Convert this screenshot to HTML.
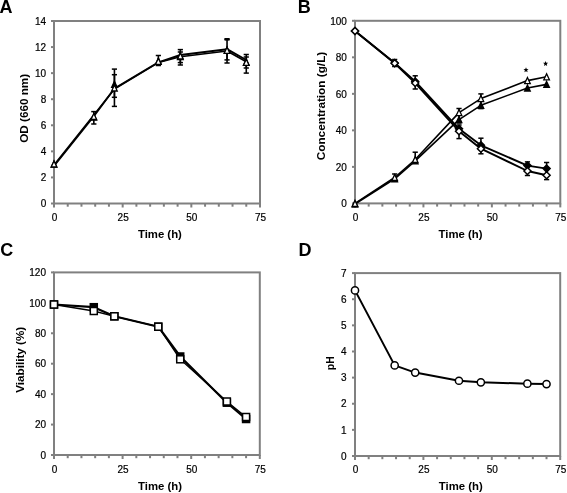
<!DOCTYPE html>
<html><head><meta charset="utf-8"><style>
html,body{margin:0;padding:0;background:#fff;width:567px;height:493px;overflow:hidden}
svg{display:block;will-change:transform}
.t{font-family:"Liberation Sans",sans-serif;font-size:10px;fill:#000;stroke:#000;stroke-width:0.2px}
.h{font-family:"Liberation Sans",sans-serif;font-size:11.5px;font-weight:bold;fill:#000}
.p{font-family:"Liberation Sans",sans-serif;font-size:18px;font-weight:bold;fill:#000}
</style></head><body>
<svg width="567" height="493" viewBox="0 0 567 493">
<rect width="567" height="493" fill="#fff"/>
<rect x="54" y="21" width="206" height="182.5" fill="none" stroke="#808080" stroke-width="2"/>
<line x1="51" x2="54" y1="203.5" y2="203.5" stroke="#808080" stroke-width="2"/>
<line x1="51" x2="54" y1="177.43" y2="177.43" stroke="#808080" stroke-width="2"/>
<line x1="51" x2="54" y1="151.36" y2="151.36" stroke="#808080" stroke-width="2"/>
<line x1="51" x2="54" y1="125.29" y2="125.29" stroke="#808080" stroke-width="2"/>
<line x1="51" x2="54" y1="99.21" y2="99.21" stroke="#808080" stroke-width="2"/>
<line x1="51" x2="54" y1="73.14" y2="73.14" stroke="#808080" stroke-width="2"/>
<line x1="51" x2="54" y1="47.07" y2="47.07" stroke="#808080" stroke-width="2"/>
<line x1="51" x2="54" y1="21" y2="21" stroke="#808080" stroke-width="2"/>
<line x1="54" x2="54" y1="203.5" y2="207.5" stroke="#808080" stroke-width="2"/>
<line x1="67.73" x2="67.73" y1="203.5" y2="206.7" stroke="#808080" stroke-width="2"/>
<line x1="81.47" x2="81.47" y1="203.5" y2="206.7" stroke="#808080" stroke-width="2"/>
<line x1="95.2" x2="95.2" y1="203.5" y2="206.7" stroke="#808080" stroke-width="2"/>
<line x1="108.93" x2="108.93" y1="203.5" y2="206.7" stroke="#808080" stroke-width="2"/>
<line x1="122.67" x2="122.67" y1="203.5" y2="207.5" stroke="#808080" stroke-width="2"/>
<line x1="136.4" x2="136.4" y1="203.5" y2="206.7" stroke="#808080" stroke-width="2"/>
<line x1="150.13" x2="150.13" y1="203.5" y2="206.7" stroke="#808080" stroke-width="2"/>
<line x1="163.87" x2="163.87" y1="203.5" y2="206.7" stroke="#808080" stroke-width="2"/>
<line x1="177.6" x2="177.6" y1="203.5" y2="206.7" stroke="#808080" stroke-width="2"/>
<line x1="191.33" x2="191.33" y1="203.5" y2="207.5" stroke="#808080" stroke-width="2"/>
<line x1="205.07" x2="205.07" y1="203.5" y2="206.7" stroke="#808080" stroke-width="2"/>
<line x1="218.8" x2="218.8" y1="203.5" y2="206.7" stroke="#808080" stroke-width="2"/>
<line x1="232.53" x2="232.53" y1="203.5" y2="206.7" stroke="#808080" stroke-width="2"/>
<line x1="246.27" x2="246.27" y1="203.5" y2="206.7" stroke="#808080" stroke-width="2"/>
<line x1="260" x2="260" y1="203.5" y2="207.5" stroke="#808080" stroke-width="2"/>
<text x="46.2" y="207.2" text-anchor="end" class="t">0</text>
<text x="46.2" y="181.13" text-anchor="end" class="t">2</text>
<text x="46.2" y="155.06" text-anchor="end" class="t">4</text>
<text x="46.2" y="128.99" text-anchor="end" class="t">6</text>
<text x="46.2" y="102.91" text-anchor="end" class="t">8</text>
<text x="46.2" y="76.84" text-anchor="end" class="t">10</text>
<text x="46.2" y="50.77" text-anchor="end" class="t">12</text>
<text x="46.2" y="24.7" text-anchor="end" class="t">14</text>
<text x="54.5" y="221" text-anchor="middle" class="t">0</text>
<text x="123.17" y="221" text-anchor="middle" class="t">25</text>
<text x="191.83" y="221" text-anchor="middle" class="t">50</text>
<text x="260.5" y="221" text-anchor="middle" class="t">75</text>
<rect x="355" y="20.8" width="205.3" height="182.6" fill="none" stroke="#808080" stroke-width="2"/>
<line x1="352" x2="355" y1="203.4" y2="203.4" stroke="#808080" stroke-width="2"/>
<line x1="352" x2="355" y1="166.88" y2="166.88" stroke="#808080" stroke-width="2"/>
<line x1="352" x2="355" y1="130.36" y2="130.36" stroke="#808080" stroke-width="2"/>
<line x1="352" x2="355" y1="93.84" y2="93.84" stroke="#808080" stroke-width="2"/>
<line x1="352" x2="355" y1="57.32" y2="57.32" stroke="#808080" stroke-width="2"/>
<line x1="352" x2="355" y1="20.8" y2="20.8" stroke="#808080" stroke-width="2"/>
<line x1="355" x2="355" y1="203.4" y2="207.4" stroke="#808080" stroke-width="2"/>
<line x1="368.69" x2="368.69" y1="203.4" y2="206.6" stroke="#808080" stroke-width="2"/>
<line x1="382.37" x2="382.37" y1="203.4" y2="206.6" stroke="#808080" stroke-width="2"/>
<line x1="396.06" x2="396.06" y1="203.4" y2="206.6" stroke="#808080" stroke-width="2"/>
<line x1="409.75" x2="409.75" y1="203.4" y2="206.6" stroke="#808080" stroke-width="2"/>
<line x1="423.43" x2="423.43" y1="203.4" y2="207.4" stroke="#808080" stroke-width="2"/>
<line x1="437.12" x2="437.12" y1="203.4" y2="206.6" stroke="#808080" stroke-width="2"/>
<line x1="450.81" x2="450.81" y1="203.4" y2="206.6" stroke="#808080" stroke-width="2"/>
<line x1="464.49" x2="464.49" y1="203.4" y2="206.6" stroke="#808080" stroke-width="2"/>
<line x1="478.18" x2="478.18" y1="203.4" y2="206.6" stroke="#808080" stroke-width="2"/>
<line x1="491.87" x2="491.87" y1="203.4" y2="207.4" stroke="#808080" stroke-width="2"/>
<line x1="505.55" x2="505.55" y1="203.4" y2="206.6" stroke="#808080" stroke-width="2"/>
<line x1="519.24" x2="519.24" y1="203.4" y2="206.6" stroke="#808080" stroke-width="2"/>
<line x1="532.93" x2="532.93" y1="203.4" y2="206.6" stroke="#808080" stroke-width="2"/>
<line x1="546.61" x2="546.61" y1="203.4" y2="206.6" stroke="#808080" stroke-width="2"/>
<line x1="560.3" x2="560.3" y1="203.4" y2="207.4" stroke="#808080" stroke-width="2"/>
<text x="346.9" y="207.1" text-anchor="end" class="t">0</text>
<text x="346.9" y="170.58" text-anchor="end" class="t">20</text>
<text x="346.9" y="134.06" text-anchor="end" class="t">40</text>
<text x="346.9" y="97.54" text-anchor="end" class="t">60</text>
<text x="346.9" y="61.02" text-anchor="end" class="t">80</text>
<text x="346.9" y="24.5" text-anchor="end" class="t">100</text>
<text x="355.5" y="221" text-anchor="middle" class="t">0</text>
<text x="423.93" y="221" text-anchor="middle" class="t">25</text>
<text x="492.37" y="221" text-anchor="middle" class="t">50</text>
<text x="560.8" y="221" text-anchor="middle" class="t">75</text>
<rect x="54" y="272.4" width="205.8" height="182.6" fill="none" stroke="#808080" stroke-width="2"/>
<line x1="51" x2="54" y1="455" y2="455" stroke="#808080" stroke-width="2"/>
<line x1="51" x2="54" y1="424.57" y2="424.57" stroke="#808080" stroke-width="2"/>
<line x1="51" x2="54" y1="394.13" y2="394.13" stroke="#808080" stroke-width="2"/>
<line x1="51" x2="54" y1="363.7" y2="363.7" stroke="#808080" stroke-width="2"/>
<line x1="51" x2="54" y1="333.27" y2="333.27" stroke="#808080" stroke-width="2"/>
<line x1="51" x2="54" y1="302.83" y2="302.83" stroke="#808080" stroke-width="2"/>
<line x1="51" x2="54" y1="272.4" y2="272.4" stroke="#808080" stroke-width="2"/>
<line x1="54" x2="54" y1="455" y2="459" stroke="#808080" stroke-width="2"/>
<line x1="67.72" x2="67.72" y1="455" y2="458.2" stroke="#808080" stroke-width="2"/>
<line x1="81.44" x2="81.44" y1="455" y2="458.2" stroke="#808080" stroke-width="2"/>
<line x1="95.16" x2="95.16" y1="455" y2="458.2" stroke="#808080" stroke-width="2"/>
<line x1="108.88" x2="108.88" y1="455" y2="458.2" stroke="#808080" stroke-width="2"/>
<line x1="122.6" x2="122.6" y1="455" y2="459" stroke="#808080" stroke-width="2"/>
<line x1="136.32" x2="136.32" y1="455" y2="458.2" stroke="#808080" stroke-width="2"/>
<line x1="150.04" x2="150.04" y1="455" y2="458.2" stroke="#808080" stroke-width="2"/>
<line x1="163.76" x2="163.76" y1="455" y2="458.2" stroke="#808080" stroke-width="2"/>
<line x1="177.48" x2="177.48" y1="455" y2="458.2" stroke="#808080" stroke-width="2"/>
<line x1="191.2" x2="191.2" y1="455" y2="459" stroke="#808080" stroke-width="2"/>
<line x1="204.92" x2="204.92" y1="455" y2="458.2" stroke="#808080" stroke-width="2"/>
<line x1="218.64" x2="218.64" y1="455" y2="458.2" stroke="#808080" stroke-width="2"/>
<line x1="232.36" x2="232.36" y1="455" y2="458.2" stroke="#808080" stroke-width="2"/>
<line x1="246.08" x2="246.08" y1="455" y2="458.2" stroke="#808080" stroke-width="2"/>
<line x1="259.8" x2="259.8" y1="455" y2="459" stroke="#808080" stroke-width="2"/>
<text x="46" y="458.7" text-anchor="end" class="t">0</text>
<text x="46" y="428.27" text-anchor="end" class="t">20</text>
<text x="46" y="397.83" text-anchor="end" class="t">40</text>
<text x="46" y="367.4" text-anchor="end" class="t">60</text>
<text x="46" y="336.97" text-anchor="end" class="t">80</text>
<text x="46" y="306.53" text-anchor="end" class="t">100</text>
<text x="46" y="276.1" text-anchor="end" class="t">120</text>
<text x="54.5" y="472.6" text-anchor="middle" class="t">0</text>
<text x="123.1" y="472.6" text-anchor="middle" class="t">25</text>
<text x="191.7" y="472.6" text-anchor="middle" class="t">50</text>
<text x="260.3" y="472.6" text-anchor="middle" class="t">75</text>
<rect x="355" y="273.1" width="205.2" height="182.9" fill="none" stroke="#808080" stroke-width="2"/>
<line x1="352" x2="355" y1="456" y2="456" stroke="#808080" stroke-width="2"/>
<line x1="352" x2="355" y1="429.87" y2="429.87" stroke="#808080" stroke-width="2"/>
<line x1="352" x2="355" y1="403.74" y2="403.74" stroke="#808080" stroke-width="2"/>
<line x1="352" x2="355" y1="377.61" y2="377.61" stroke="#808080" stroke-width="2"/>
<line x1="352" x2="355" y1="351.49" y2="351.49" stroke="#808080" stroke-width="2"/>
<line x1="352" x2="355" y1="325.36" y2="325.36" stroke="#808080" stroke-width="2"/>
<line x1="352" x2="355" y1="299.23" y2="299.23" stroke="#808080" stroke-width="2"/>
<line x1="352" x2="355" y1="273.1" y2="273.1" stroke="#808080" stroke-width="2"/>
<line x1="355" x2="355" y1="456" y2="460" stroke="#808080" stroke-width="2"/>
<line x1="368.68" x2="368.68" y1="456" y2="459.2" stroke="#808080" stroke-width="2"/>
<line x1="382.36" x2="382.36" y1="456" y2="459.2" stroke="#808080" stroke-width="2"/>
<line x1="396.04" x2="396.04" y1="456" y2="459.2" stroke="#808080" stroke-width="2"/>
<line x1="409.72" x2="409.72" y1="456" y2="459.2" stroke="#808080" stroke-width="2"/>
<line x1="423.4" x2="423.4" y1="456" y2="460" stroke="#808080" stroke-width="2"/>
<line x1="437.08" x2="437.08" y1="456" y2="459.2" stroke="#808080" stroke-width="2"/>
<line x1="450.76" x2="450.76" y1="456" y2="459.2" stroke="#808080" stroke-width="2"/>
<line x1="464.44" x2="464.44" y1="456" y2="459.2" stroke="#808080" stroke-width="2"/>
<line x1="478.12" x2="478.12" y1="456" y2="459.2" stroke="#808080" stroke-width="2"/>
<line x1="491.8" x2="491.8" y1="456" y2="460" stroke="#808080" stroke-width="2"/>
<line x1="505.48" x2="505.48" y1="456" y2="459.2" stroke="#808080" stroke-width="2"/>
<line x1="519.16" x2="519.16" y1="456" y2="459.2" stroke="#808080" stroke-width="2"/>
<line x1="532.84" x2="532.84" y1="456" y2="459.2" stroke="#808080" stroke-width="2"/>
<line x1="546.52" x2="546.52" y1="456" y2="459.2" stroke="#808080" stroke-width="2"/>
<line x1="560.2" x2="560.2" y1="456" y2="460" stroke="#808080" stroke-width="2"/>
<text x="346.6" y="459.7" text-anchor="end" class="t">0</text>
<text x="346.6" y="433.57" text-anchor="end" class="t">1</text>
<text x="346.6" y="407.44" text-anchor="end" class="t">2</text>
<text x="346.6" y="381.31" text-anchor="end" class="t">3</text>
<text x="346.6" y="355.19" text-anchor="end" class="t">4</text>
<text x="346.6" y="329.06" text-anchor="end" class="t">5</text>
<text x="346.6" y="302.93" text-anchor="end" class="t">6</text>
<text x="346.6" y="276.8" text-anchor="end" class="t">7</text>
<text x="355.5" y="472.8" text-anchor="middle" class="t">0</text>
<text x="423.9" y="472.8" text-anchor="middle" class="t">25</text>
<text x="492.3" y="472.8" text-anchor="middle" class="t">50</text>
<text x="560.7" y="472.8" text-anchor="middle" class="t">75</text>
<polyline points="54,166 93.83,116.2 114.43,88.5 158.37,62.3 180.35,55 227.04,49.2 246.27,60" fill="none" stroke="#000" stroke-width="1.9" stroke-linejoin="round"/>
<polyline points="54,165 93.83,115 114.43,89 158.37,62.6 180.35,56.8 227.04,51 246.27,61.8" fill="none" stroke="#000" stroke-width="1.6" stroke-linejoin="round"/>
<line x1="93.83" x2="93.83" y1="111.6" y2="124" stroke="#000" stroke-width="1.6"/>
<line x1="91.23" x2="96.43" y1="111.6" y2="111.6" stroke="#000" stroke-width="1.5"/>
<line x1="91.23" x2="96.43" y1="124" y2="124" stroke="#000" stroke-width="1.5"/>
<line x1="114.43" x2="114.43" y1="69.1" y2="106.4" stroke="#000" stroke-width="1.6"/>
<line x1="111.83" x2="117.03" y1="69.1" y2="69.1" stroke="#000" stroke-width="1.5"/>
<line x1="111.83" x2="117.03" y1="106.4" y2="106.4" stroke="#000" stroke-width="1.5"/>
<line x1="114.43" x2="114.43" y1="74.7" y2="97.3" stroke="#000" stroke-width="1.6"/>
<line x1="111.83" x2="117.03" y1="74.7" y2="74.7" stroke="#000" stroke-width="1.5"/>
<line x1="111.83" x2="117.03" y1="97.3" y2="97.3" stroke="#000" stroke-width="1.5"/>
<line x1="158.37" x2="158.37" y1="55.5" y2="65.5" stroke="#000" stroke-width="1.6"/>
<line x1="155.77" x2="160.97" y1="55.5" y2="55.5" stroke="#000" stroke-width="1.5"/>
<line x1="155.77" x2="160.97" y1="65.5" y2="65.5" stroke="#000" stroke-width="1.5"/>
<line x1="180.35" x2="180.35" y1="49.6" y2="65" stroke="#000" stroke-width="1.6"/>
<line x1="177.75" x2="182.95" y1="49.6" y2="49.6" stroke="#000" stroke-width="1.5"/>
<line x1="177.75" x2="182.95" y1="65" y2="65" stroke="#000" stroke-width="1.5"/>
<line x1="180.35" x2="180.35" y1="52" y2="62.6" stroke="#000" stroke-width="1.6"/>
<line x1="177.75" x2="182.95" y1="52" y2="52" stroke="#000" stroke-width="1.5"/>
<line x1="177.75" x2="182.95" y1="62.6" y2="62.6" stroke="#000" stroke-width="1.5"/>
<line x1="227.04" x2="227.04" y1="39.3" y2="63" stroke="#000" stroke-width="1.6"/>
<line x1="224.44" x2="229.64" y1="39.3" y2="39.3" stroke="#000" stroke-width="1.5"/>
<line x1="224.44" x2="229.64" y1="63" y2="63" stroke="#000" stroke-width="1.5"/>
<line x1="227.04" x2="227.04" y1="52" y2="59.9" stroke="#000" stroke-width="1.6"/>
<line x1="224.44" x2="229.64" y1="52" y2="52" stroke="#000" stroke-width="1.5"/>
<line x1="224.44" x2="229.64" y1="59.9" y2="59.9" stroke="#000" stroke-width="1.5"/>
<line x1="246.27" x2="246.27" y1="54.5" y2="73.1" stroke="#000" stroke-width="1.6"/>
<line x1="243.67" x2="248.87" y1="54.5" y2="54.5" stroke="#000" stroke-width="1.5"/>
<line x1="243.67" x2="248.87" y1="73.1" y2="73.1" stroke="#000" stroke-width="1.5"/>
<line x1="246.27" x2="246.27" y1="57" y2="68" stroke="#000" stroke-width="1.6"/>
<line x1="243.67" x2="248.87" y1="57" y2="57" stroke="#000" stroke-width="1.5"/>
<line x1="243.67" x2="248.87" y1="68" y2="68" stroke="#000" stroke-width="1.5"/>
<rect x="224.54" y="38" width="5" height="2.6" fill="#000"/>
<polygon points="54,161 56.8,167 51.2,167" fill="#000" stroke="#000" stroke-width="1.3" stroke-linejoin="miter"/>
<polygon points="93.83,114 96.63,120 91.03,120" fill="#000" stroke="#000" stroke-width="1.3" stroke-linejoin="miter"/>
<polygon points="114.43,81.3 117.23,87.3 111.63,87.3" fill="#000" stroke="#000" stroke-width="1.3" stroke-linejoin="miter"/>
<polygon points="158.37,58 161.17,64 155.57,64" fill="#000" stroke="#000" stroke-width="1.3" stroke-linejoin="miter"/>
<polygon points="180.35,53.5 183.15,59.5 177.55,59.5" fill="#000" stroke="#000" stroke-width="1.3" stroke-linejoin="miter"/>
<polygon points="227.04,47 229.84,53 224.24,53" fill="#000" stroke="#000" stroke-width="1.3" stroke-linejoin="miter"/>
<polygon points="246.27,59 249.07,65 243.47,65" fill="#000" stroke="#000" stroke-width="1.3" stroke-linejoin="miter"/>
<polygon points="54,161 56.8,167 51.2,167" fill="#fff" stroke="#000" stroke-width="1.3" stroke-linejoin="miter"/>
<polygon points="93.83,113.5 96.63,119.5 91.03,119.5" fill="#fff" stroke="#000" stroke-width="1.3" stroke-linejoin="miter"/>
<polygon points="114.43,85 117.23,91 111.63,91" fill="#fff" stroke="#000" stroke-width="1.3" stroke-linejoin="miter"/>
<polygon points="158.37,58.3 161.17,64.3 155.57,64.3" fill="#fff" stroke="#000" stroke-width="1.3" stroke-linejoin="miter"/>
<polygon points="180.35,52.9 183.15,58.9 177.55,58.9" fill="#fff" stroke="#000" stroke-width="1.3" stroke-linejoin="miter"/>
<polygon points="227.04,47.3 229.84,53.3 224.24,53.3" fill="#fff" stroke="#000" stroke-width="1.3" stroke-linejoin="miter"/>
<polygon points="246.27,59.3 249.07,65.3 243.47,65.3" fill="#fff" stroke="#000" stroke-width="1.3" stroke-linejoin="miter"/>
<polyline points="355,31 394.69,63 415.22,81.5 459.02,128.8 480.92,145.3 527.45,165.6 546.61,168.6" fill="none" stroke="#000" stroke-width="1.9" stroke-linejoin="round"/>
<polyline points="355,31 394.69,63.2 415.22,83 459.02,131.2 480.92,148.7 527.45,171 546.61,175.3" fill="none" stroke="#000" stroke-width="1.9" stroke-linejoin="round"/>
<polyline points="355,204 394.69,178.8 415.22,160.8 459.02,119.6 480.92,105.3 527.45,88 546.61,84.4" fill="none" stroke="#000" stroke-width="1.6" stroke-linejoin="round"/>
<polyline points="355,203.4 394.69,177.5 415.22,159.5 459.02,112.6 480.92,98.6 527.45,80.6 546.61,76.8" fill="none" stroke="#000" stroke-width="1.6" stroke-linejoin="round"/>
<line x1="394.69" x2="394.69" y1="59.5" y2="66.5" stroke="#000" stroke-width="1.6"/>
<line x1="392.09" x2="397.29" y1="59.5" y2="59.5" stroke="#000" stroke-width="1.5"/>
<line x1="392.09" x2="397.29" y1="66.5" y2="66.5" stroke="#000" stroke-width="1.5"/>
<line x1="415.22" x2="415.22" y1="75.8" y2="89" stroke="#000" stroke-width="1.6"/>
<line x1="412.62" x2="417.82" y1="75.8" y2="75.8" stroke="#000" stroke-width="1.5"/>
<line x1="412.62" x2="417.82" y1="89" y2="89" stroke="#000" stroke-width="1.5"/>
<line x1="459.02" x2="459.02" y1="125" y2="138.6" stroke="#000" stroke-width="1.6"/>
<line x1="456.42" x2="461.62" y1="125" y2="125" stroke="#000" stroke-width="1.5"/>
<line x1="456.42" x2="461.62" y1="138.6" y2="138.6" stroke="#000" stroke-width="1.5"/>
<line x1="480.92" x2="480.92" y1="138.2" y2="153.8" stroke="#000" stroke-width="1.6"/>
<line x1="478.32" x2="483.52" y1="138.2" y2="138.2" stroke="#000" stroke-width="1.5"/>
<line x1="478.32" x2="483.52" y1="153.8" y2="153.8" stroke="#000" stroke-width="1.5"/>
<line x1="527.45" x2="527.45" y1="161.9" y2="175.5" stroke="#000" stroke-width="1.6"/>
<line x1="524.85" x2="530.05" y1="161.9" y2="161.9" stroke="#000" stroke-width="1.5"/>
<line x1="524.85" x2="530.05" y1="175.5" y2="175.5" stroke="#000" stroke-width="1.5"/>
<line x1="546.61" x2="546.61" y1="162.5" y2="179.6" stroke="#000" stroke-width="1.6"/>
<line x1="544.01" x2="549.21" y1="162.5" y2="162.5" stroke="#000" stroke-width="1.5"/>
<line x1="544.01" x2="549.21" y1="179.6" y2="179.6" stroke="#000" stroke-width="1.5"/>
<line x1="394.69" x2="394.69" y1="174" y2="181" stroke="#000" stroke-width="1.6"/>
<line x1="392.09" x2="397.29" y1="174" y2="174" stroke="#000" stroke-width="1.5"/>
<line x1="392.09" x2="397.29" y1="181" y2="181" stroke="#000" stroke-width="1.5"/>
<line x1="415.22" x2="415.22" y1="152.2" y2="163" stroke="#000" stroke-width="1.6"/>
<line x1="412.62" x2="417.82" y1="152.2" y2="152.2" stroke="#000" stroke-width="1.5"/>
<line x1="412.62" x2="417.82" y1="163" y2="163" stroke="#000" stroke-width="1.5"/>
<line x1="459.02" x2="459.02" y1="108.5" y2="123" stroke="#000" stroke-width="1.6"/>
<line x1="456.42" x2="461.62" y1="108.5" y2="108.5" stroke="#000" stroke-width="1.5"/>
<line x1="456.42" x2="461.62" y1="123" y2="123" stroke="#000" stroke-width="1.5"/>
<line x1="480.92" x2="480.92" y1="93.9" y2="108.6" stroke="#000" stroke-width="1.6"/>
<line x1="478.32" x2="483.52" y1="93.9" y2="93.9" stroke="#000" stroke-width="1.5"/>
<line x1="478.32" x2="483.52" y1="108.6" y2="108.6" stroke="#000" stroke-width="1.5"/>
<polygon points="355,201 357.8,207 352.2,207" fill="#000" stroke="#000" stroke-width="1.3" stroke-linejoin="miter"/>
<polygon points="394.69,175.8 397.49,181.8 391.89,181.8" fill="#000" stroke="#000" stroke-width="1.3" stroke-linejoin="miter"/>
<polygon points="415.22,157.8 418.02,163.8 412.42,163.8" fill="#000" stroke="#000" stroke-width="1.3" stroke-linejoin="miter"/>
<polygon points="459.02,116.6 461.82,122.6 456.22,122.6" fill="#000" stroke="#000" stroke-width="1.3" stroke-linejoin="miter"/>
<polygon points="480.92,102.3 483.72,108.3 478.12,108.3" fill="#000" stroke="#000" stroke-width="1.3" stroke-linejoin="miter"/>
<polygon points="527.45,85 530.25,91 524.65,91" fill="#000" stroke="#000" stroke-width="1.3" stroke-linejoin="miter"/>
<polygon points="546.61,81.4 549.41,87.4 543.81,87.4" fill="#000" stroke="#000" stroke-width="1.3" stroke-linejoin="miter"/>
<polygon points="355,200.4 357.8,206.4 352.2,206.4" fill="#fff" stroke="#000" stroke-width="1.3" stroke-linejoin="miter"/>
<polygon points="394.69,174.5 397.49,180.5 391.89,180.5" fill="#fff" stroke="#000" stroke-width="1.3" stroke-linejoin="miter"/>
<polygon points="415.22,156.5 418.02,162.5 412.42,162.5" fill="#fff" stroke="#000" stroke-width="1.3" stroke-linejoin="miter"/>
<polygon points="459.02,109.6 461.82,115.6 456.22,115.6" fill="#fff" stroke="#000" stroke-width="1.3" stroke-linejoin="miter"/>
<polygon points="480.92,95.6 483.72,101.6 478.12,101.6" fill="#fff" stroke="#000" stroke-width="1.3" stroke-linejoin="miter"/>
<polygon points="527.45,77.6 530.25,83.6 524.65,83.6" fill="#fff" stroke="#000" stroke-width="1.3" stroke-linejoin="miter"/>
<polygon points="546.61,73.8 549.41,79.8 543.81,79.8" fill="#fff" stroke="#000" stroke-width="1.3" stroke-linejoin="miter"/>
<polygon points="355,27.5 358.5,31 355,34.5 351.5,31" fill="#000" stroke="#000" stroke-width="1.5"/>
<polygon points="394.69,59.5 398.19,63 394.69,66.5 391.19,63" fill="#000" stroke="#000" stroke-width="1.5"/>
<polygon points="415.22,78 418.72,81.5 415.22,85 411.72,81.5" fill="#000" stroke="#000" stroke-width="1.5"/>
<polygon points="459.02,125.3 462.52,128.8 459.02,132.3 455.52,128.8" fill="#000" stroke="#000" stroke-width="1.5"/>
<polygon points="480.92,141.8 484.42,145.3 480.92,148.8 477.42,145.3" fill="#000" stroke="#000" stroke-width="1.5"/>
<polygon points="527.45,162.1 530.95,165.6 527.45,169.1 523.95,165.6" fill="#000" stroke="#000" stroke-width="1.5"/>
<polygon points="546.61,165.1 550.11,168.6 546.61,172.1 543.11,168.6" fill="#000" stroke="#000" stroke-width="1.5"/>
<polygon points="355,27.5 358.5,31 355,34.5 351.5,31" fill="#fff" stroke="#000" stroke-width="1.5"/>
<polygon points="394.69,59.7 398.19,63.2 394.69,66.7 391.19,63.2" fill="#fff" stroke="#000" stroke-width="1.5"/>
<polygon points="415.22,79.5 418.72,83 415.22,86.5 411.72,83" fill="#fff" stroke="#000" stroke-width="1.5"/>
<polygon points="459.02,127.7 462.52,131.2 459.02,134.7 455.52,131.2" fill="#fff" stroke="#000" stroke-width="1.5"/>
<polygon points="480.92,145.2 484.42,148.7 480.92,152.2 477.42,148.7" fill="#fff" stroke="#000" stroke-width="1.5"/>
<polygon points="527.45,167.5 530.95,171 527.45,174.5 523.95,171" fill="#fff" stroke="#000" stroke-width="1.5"/>
<polygon points="546.61,171.8 550.11,175.3 546.61,178.8 543.11,175.3" fill="#fff" stroke="#000" stroke-width="1.5"/>
<polygon points="526,67.3 526.71,69.03 528.57,69.17 527.14,70.37 527.59,72.18 526,71.2 524.41,72.18 524.86,70.37 523.43,69.17 525.29,69.03" fill="#000"/>
<polygon points="545.6,61 546.31,62.73 548.17,62.87 546.74,64.07 547.19,65.88 545.6,64.9 544.01,65.88 544.46,64.07 543.03,62.87 544.89,62.73" fill="#000"/>
<polyline points="54,304.5 93.79,307.2 114.37,316.3 158.27,326.7 180.22,356.5 226.87,402.7 246.08,419" fill="none" stroke="#000" stroke-width="2.2" stroke-linejoin="round"/>
<polyline points="54,304.5 93.79,311 114.37,316.3 158.27,326.7 180.22,359.3 226.87,401.5 246.08,417" fill="none" stroke="#000" stroke-width="1.3" stroke-linejoin="round"/>
<rect x="50.5" y="301" width="7" height="7" fill="#000" stroke="#000" stroke-width="1.5"/>
<rect x="90.29" y="303.7" width="7" height="7" fill="#000" stroke="#000" stroke-width="1.5"/>
<rect x="110.87" y="312.8" width="7" height="7" fill="#000" stroke="#000" stroke-width="1.5"/>
<rect x="154.77" y="323.2" width="7" height="7" fill="#000" stroke="#000" stroke-width="1.5"/>
<rect x="176.72" y="353" width="7" height="7" fill="#000" stroke="#000" stroke-width="1.5"/>
<rect x="223.37" y="399.2" width="7" height="7" fill="#000" stroke="#000" stroke-width="1.5"/>
<rect x="242.58" y="415.5" width="7" height="7" fill="#000" stroke="#000" stroke-width="1.5"/>
<rect x="50.5" y="301" width="7" height="7" fill="#fff" stroke="#000" stroke-width="1.5"/>
<rect x="90.29" y="307.5" width="7" height="7" fill="#fff" stroke="#000" stroke-width="1.5"/>
<rect x="110.87" y="312.8" width="7" height="7" fill="#fff" stroke="#000" stroke-width="1.5"/>
<rect x="154.77" y="323.2" width="7" height="7" fill="#fff" stroke="#000" stroke-width="1.5"/>
<rect x="176.72" y="355.8" width="7" height="7" fill="#fff" stroke="#000" stroke-width="1.5"/>
<rect x="223.37" y="398" width="7" height="7" fill="#fff" stroke="#000" stroke-width="1.5"/>
<rect x="242.58" y="413.5" width="7" height="7" fill="#fff" stroke="#000" stroke-width="1.5"/>
<polyline points="355,290.4 394.67,365.4 415.19,372.6 458.97,380.75 480.86,382.3 527.37,383.7 546.52,384.1" fill="none" stroke="#000" stroke-width="2" stroke-linejoin="round"/>
<circle cx="355" cy="290.4" r="3.6" fill="#fff" stroke="#000" stroke-width="1.5"/>
<circle cx="394.67" cy="365.4" r="3.6" fill="#fff" stroke="#000" stroke-width="1.5"/>
<circle cx="415.19" cy="372.6" r="3.6" fill="#fff" stroke="#000" stroke-width="1.5"/>
<circle cx="458.97" cy="380.75" r="3.6" fill="#fff" stroke="#000" stroke-width="1.5"/>
<circle cx="480.86" cy="382.3" r="3.6" fill="#fff" stroke="#000" stroke-width="1.5"/>
<circle cx="527.37" cy="383.7" r="3.6" fill="#fff" stroke="#000" stroke-width="1.5"/>
<circle cx="546.52" cy="384.1" r="3.6" fill="#fff" stroke="#000" stroke-width="1.5"/>
<text x="159.9" y="237.6" text-anchor="middle" class="h" textLength="44" lengthAdjust="spacingAndGlyphs">Time (h)</text>
<text x="460.6" y="237.5" text-anchor="middle" class="h" textLength="44" lengthAdjust="spacingAndGlyphs">Time (h)</text>
<text x="160" y="489.6" text-anchor="middle" class="h" textLength="44" lengthAdjust="spacingAndGlyphs">Time (h)</text>
<text x="460.8" y="490.3" text-anchor="middle" class="h" textLength="44" lengthAdjust="spacingAndGlyphs">Time (h)</text>
<text transform="translate(28.1,108.3) rotate(-90)" text-anchor="middle" class="h" textLength="69" lengthAdjust="spacingAndGlyphs">OD (660 nm)</text>
<text transform="translate(324.6,106) rotate(-90)" text-anchor="middle" class="h" textLength="108.5" lengthAdjust="spacingAndGlyphs">Concentration (g/L)</text>
<text transform="translate(23.9,359.8) rotate(-90)" text-anchor="middle" class="h" textLength="66" lengthAdjust="spacingAndGlyphs">Viability (%)</text>
<text transform="translate(333.7,363.2) rotate(-90)" text-anchor="middle" class="h" textLength="14" lengthAdjust="spacingAndGlyphs">pH</text>
<text x="-0.5" y="12.7" class="p">A</text>
<text x="297.8" y="12.8" class="p">B</text>
<text x="0.2" y="256.3" class="p">C</text>
<text x="298.6" y="255.8" class="p">D</text>
</svg>
</body></html>
